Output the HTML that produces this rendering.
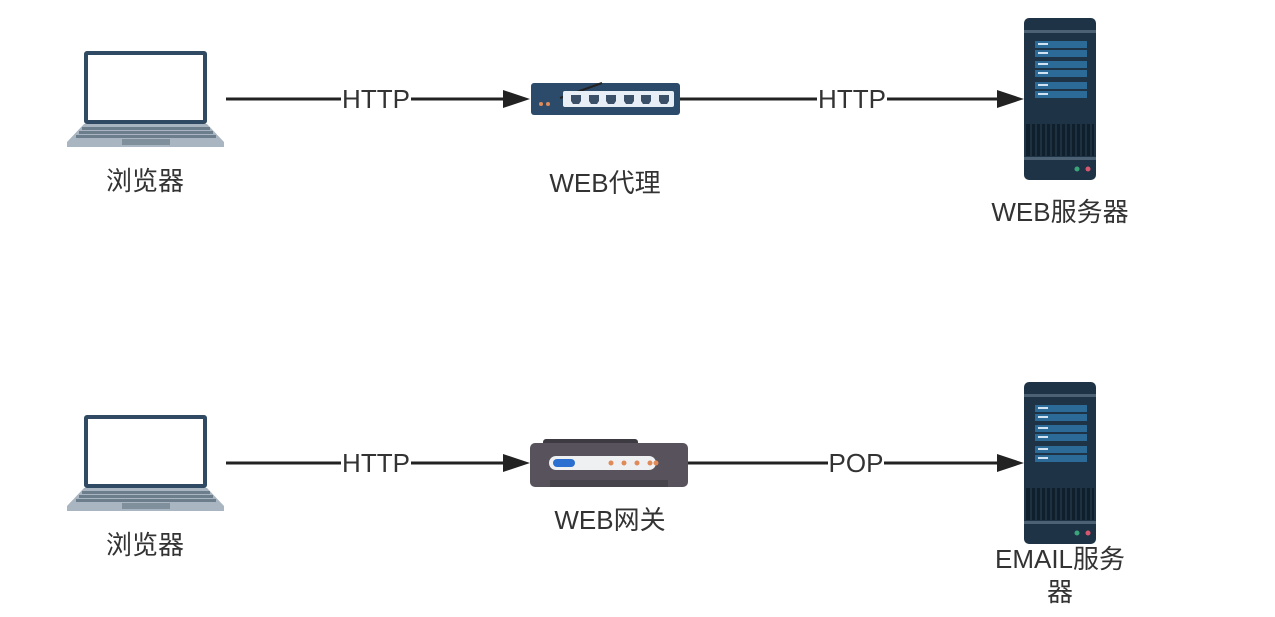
<!DOCTYPE html>
<html><head><meta charset="utf-8"><style>
html,body{margin:0;padding:0;background:#fff;}
svg{display:block}
text{font-family:"Liberation Sans","Noto Sans CJK SC",sans-serif;fill:#333;font-size:26px}
</style></head><body>
<svg width="1275" height="617" viewBox="0 0 1275 617" xmlns="http://www.w3.org/2000/svg">
<defs>
<g id="laptop">
<rect x="84" y="51" width="123" height="73" rx="3" fill="#2f4a62"/>
<rect x="88" y="55" width="115" height="65" fill="#fff"/>
<path d="M84 124 L207 124 L224 142 L224 147 L67 147 L67 142 Z" fill="#a9b6c1"/>
<g fill="#6c7d8c">
<rect x="82" y="127" width="128" height="3"/>
<rect x="79" y="131" width="134" height="3"/>
<rect x="76" y="135" width="140" height="3"/>
</g>
<rect x="122" y="139" width="48" height="6" fill="#7f8f9c"/>
</g>
<g id="server">
<rect x="1024" y="18" width="72" height="162" rx="5" fill="#1e3346"/>
<rect x="1024" y="30" width="72" height="3" fill="#4d6174"/>
<rect x="1024" y="157" width="72" height="3" fill="#4d6174"/>
<g fill="#2c6a98">
<rect x="1035" y="41" width="52" height="7"/><rect x="1035" y="50" width="52" height="7"/>
<rect x="1035" y="61" width="52" height="7"/><rect x="1035" y="70" width="52" height="7"/>
<rect x="1035" y="82" width="52" height="7"/><rect x="1035" y="91" width="52" height="7"/>
</g>
<g fill="#cfe3f3">
<rect x="1038" y="43" width="10" height="2"/><rect x="1038" y="52" width="10" height="2"/>
<rect x="1038" y="63" width="10" height="2"/><rect x="1038" y="72" width="10" height="2"/>
<rect x="1038" y="84" width="10" height="2"/><rect x="1038" y="93" width="10" height="2"/>
</g>
<rect x="1026" y="124" width="68" height="32" fill="#0f1f2c"/>
<g stroke="#2b4356" stroke-width="1">
<path d="M1031 124V156M1036 124V156M1041 124V156M1046 124V156M1051 124V156M1056 124V156M1061 124V156M1066 124V156M1071 124V156M1076 124V156M1081 124V156M1086 124V156M1091 124V156"/>
</g>
<circle cx="1077" cy="169" r="2.5" fill="#3aa57a"/>
<circle cx="1088" cy="169" r="2.5" fill="#d9566f"/>
</g>
</defs>

<!-- Row 1 -->
<use href="#laptop"/>
<use href="#server"/>
<line x1="226" y1="99" x2="506" y2="99" stroke="#222" stroke-width="3"/>
<path d="M503 90 L530 99 L503 108 Z" fill="#222"/>
<line x1="680" y1="99" x2="1000" y2="99" stroke="#222" stroke-width="3"/>
<path d="M997 90 L1024 99 L997 108 Z" fill="#222"/>
<rect x="341" y="86" width="70" height="26" fill="#fff"/>
<text x="376" y="108" text-anchor="middle" textLength="68">HTTP</text>
<rect x="817" y="86" width="70" height="26" fill="#fff"/>
<text x="852" y="108" text-anchor="middle" textLength="68">HTTP</text>
<!-- switch -->
<rect x="531" y="83" width="149" height="32" rx="3" fill="#2c4a6a"/>
<line x1="560" y1="98" x2="602" y2="83" stroke="#222" stroke-width="2"/>
<rect x="563" y="91" width="111" height="16" rx="2" fill="#e8eef5"/>
<circle cx="541" cy="104" r="2" fill="#e08a5a"/><circle cx="548" cy="104" r="2" fill="#e08a5a"/>
<g fill="#3a5068">
<path d="M571 95h10v6l-2 3h-6l-2-3z"/><path d="M589 95h10v6l-2 3h-6l-2-3z"/>
<path d="M606 95h10v6l-2 3h-6l-2-3z"/><path d="M624 95h10v6l-2 3h-6l-2-3z"/>
<path d="M641 95h10v6l-2 3h-6l-2-3z"/><path d="M659 95h10v6l-2 3h-6l-2-3z"/>
</g>
<text x="145" y="190" text-anchor="middle">浏览器</text>
<text x="605" y="192" text-anchor="middle">WEB代理</text>
<text x="1060" y="221" text-anchor="middle">WEB服务器</text>

<!-- Row 2 -->
<use href="#laptop" transform="translate(0,364)"/>
<use href="#server" transform="translate(0,364)"/>
<line x1="226" y1="463" x2="506" y2="463" stroke="#222" stroke-width="3"/>
<path d="M503 454 L530 463 L503 472 Z" fill="#222"/>
<line x1="688" y1="463" x2="1000" y2="463" stroke="#222" stroke-width="3"/>
<path d="M997 454 L1024 463 L997 472 Z" fill="#222"/>
<rect x="341" y="450" width="70" height="26" fill="#fff"/>
<text x="376" y="472" text-anchor="middle" textLength="68">HTTP</text>
<rect x="828" y="450" width="56" height="26" fill="#fff"/>
<text x="856" y="472" text-anchor="middle">POP</text>
<!-- gateway -->
<rect x="543" y="439" width="95" height="10" rx="3" fill="#3e3a42"/>
<rect x="530" y="443" width="158" height="44" rx="5" fill="#57525b"/>
<rect x="550" y="480" width="118" height="7" fill="#48444c"/>
<rect x="549" y="456" width="107" height="14" rx="7" fill="#eef0f2"/>
<rect x="553" y="459" width="22" height="8" rx="4" fill="#2b6fd0"/>
<g fill="#e08a5a"><circle cx="611" cy="463" r="2.5"/><circle cx="624" cy="463" r="2.5"/><circle cx="637" cy="463" r="2.5"/><circle cx="650" cy="463" r="2.5"/><circle cx="663" cy="463" r="2.5" transform="translate(-7,0)"/></g>
<text x="145" y="554" text-anchor="middle">浏览器</text>
<text x="610" y="529" text-anchor="middle">WEB网关</text>
<text x="1060" y="568" text-anchor="middle">EMAIL服务</text>
<text x="1060" y="601" text-anchor="middle">器</text>
</svg>
</body></html>
